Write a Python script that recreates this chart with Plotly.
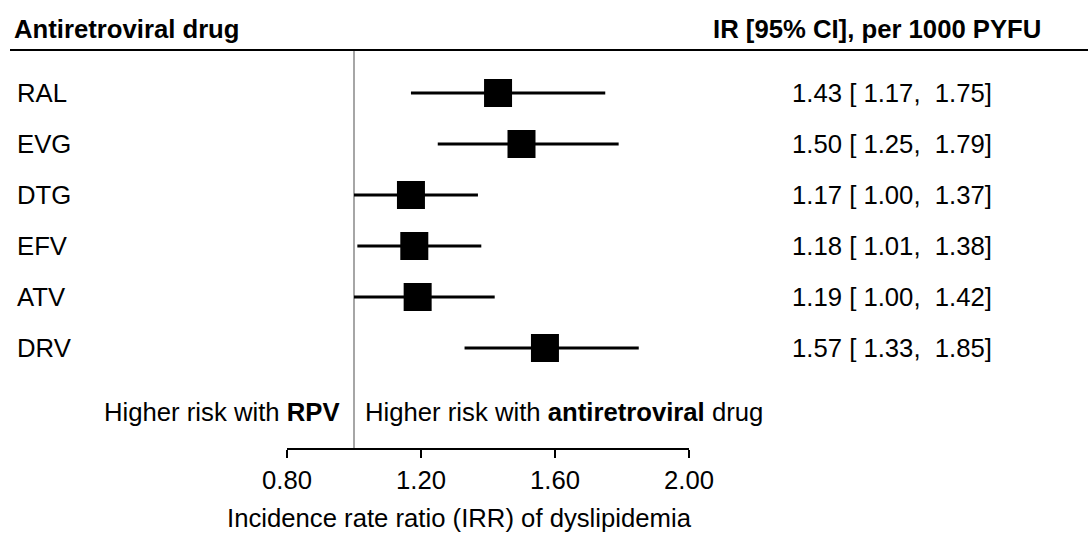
import plotly.graph_objects as go

# ---- data ----
drugs = ["RAL", "EVG", "DTG", "EFV", "ATV", "DRV"]
irr = [1.43, 1.50, 1.17, 1.18, 1.19, 1.57]
ci_low = [1.17, 1.25, 1.00, 1.01, 1.00, 1.33]
ci_high = [1.75, 1.79, 1.37, 1.38, 1.42, 1.85]
tick_vals = [0.80, 1.20, 1.60, 2.00]
tick_text = ["0.80", "1.20", "1.60", "2.00"]
ref_value = 1.0

# ---- layout geometry (pixels) ----
W, H = 1088, 533
L, R = 287, 689          # plot area left/right (x range 0.8..2.0)
T, B = 50, 448           # plot area top/bottom
FONT = "Arial, Liberation Sans, sans-serif"
FS = 25.7


def px(x):
    return (x - L) / (R - L)


def py(y):
    return (B - y) / (B - T)


rows = list(range(len(drugs)))
# y range so that row i sits at 93 + 51*i px
row_px = 51.0
y_top = -(93 - T) / row_px
y_bot = y_top + (B - T) / row_px

fig = go.Figure()
fig.add_trace(go.Scatter(
    x=irr, y=rows, mode="markers",
    marker=dict(symbol="square", size=28, color="black", line=dict(width=0)),
    error_x=dict(type="data", symmetric=False,
                 array=[h - v for h, v in zip(ci_high, irr)],
                 arrayminus=[v - l for v, l in zip(irr, ci_low)],
                 color="black", thickness=3, width=0),
    showlegend=False, hoverinfo="skip", cliponaxis=False,
))

annotations = []
for i, d in enumerate(drugs):
    annotations.append(dict(x=px(15), y=i, xref="paper", yref="y", text=d,
                            showarrow=False, xanchor="left", yanchor="middle",
                            font=dict(family=FONT, size=FS, color="black")))
    annotations.append(dict(x=px(790), y=i, xref="paper", yref="y",
                            text=f"{irr[i]:.2f} [ {ci_low[i]:.2f},  {ci_high[i]:.2f}]",
                            showarrow=False, xanchor="left", yanchor="middle",
                            font=dict(family=FONT, size=FS, color="black")))

annotations += [
    dict(x=px(12), y=py(29), xref="paper", yref="paper", text="<b>Antiretroviral drug</b>",
         showarrow=False, xanchor="left", yanchor="middle",
         font=dict(family=FONT, size=FS, color="black")),
    dict(x=px(1043), y=py(29), xref="paper", yref="paper", text="<b>IR [95% CI], per 1000 PYFU</b>",
         showarrow=False, xanchor="right", yanchor="middle",
         font=dict(family=FONT, size=FS, color="black")),
    dict(x=px(342), y=py(412), xref="paper", yref="paper", text="Higher risk with <b>RPV</b>",
         showarrow=False, xanchor="right", yanchor="middle",
         font=dict(family=FONT, size=FS, color="black")),
    dict(x=px(363), y=py(412), xref="paper", yref="paper",
         text="Higher risk with <b>antiretroviral</b> drug",
         showarrow=False, xanchor="left", yanchor="middle",
         font=dict(family=FONT, size=FS, color="black")),
    dict(x=px(459), y=py(518), xref="paper", yref="paper",
         text="Incidence rate ratio (IRR) of dyslipidemia",
         showarrow=False, xanchor="center", yanchor="middle",
         font=dict(family=FONT, size=FS, color="black")),
]

shapes = [
    dict(type="line", xref="paper", yref="paper", x0=px(10), x1=px(1088), y0=1, y1=1,
         line=dict(color="black", width=2)),
    dict(type="line", xref="x", yref="paper", x0=ref_value, x1=ref_value, y0=0, y1=1,
         line=dict(color="#a6a6a6", width=2), layer="below"),
]

fig.update_layout(
    width=W, height=H,
    margin=dict(l=L, r=W - R, t=T, b=H - B, pad=0),
    paper_bgcolor="white", plot_bgcolor="white",
    xaxis=dict(range=[tick_vals[0], tick_vals[-1]], tickvals=tick_vals, ticktext=tick_text,
               showgrid=False, zeroline=False, showline=True, linecolor="black", linewidth=2,
               ticks="outside", ticklen=8, tickwidth=2, tickcolor="black",
               tickfont=dict(family=FONT, size=FS, color="black"), fixedrange=True),
    yaxis=dict(range=[y_bot, y_top], visible=False, showgrid=False, zeroline=False,
               fixedrange=True),
    annotations=annotations, shapes=shapes,
    font=dict(family=FONT, size=FS, color="black"),
)

fig.write_html("out.html", config={"displayModeBar": False})
